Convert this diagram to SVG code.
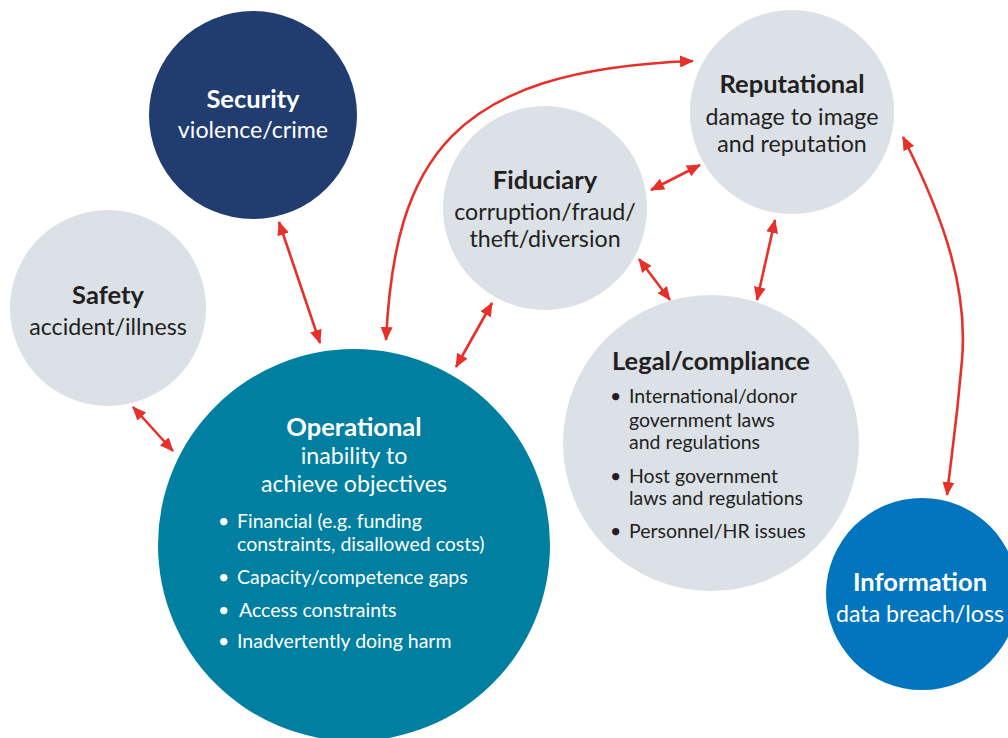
<svg xmlns="http://www.w3.org/2000/svg" width="1008" height="738" viewBox="0 0 1008 738">
  <style>
    .grey { fill: #dbe1e7; }
    .t { font-family: Lato, "Liberation Sans", sans-serif; text-anchor: middle; }
    .h { font-weight: bold; font-size: 25.5px; }
    .s { font-size: 23.2px; }
    .b { font-family: Lato, "Liberation Sans", sans-serif; font-size: 19.5px; }
    .dark { fill: #231f20; }
    .light { fill: #ffffff; }
    .link { fill: none; stroke: #e8302a; stroke-width: 2.6; marker-start: url(#head); marker-end: url(#head); }
  </style>
  <defs>
    <marker id="head" markerUnits="userSpaceOnUse" markerWidth="14" markerHeight="12" refX="13" refY="6" orient="auto-start-reverse" viewBox="0 0 14 12">
      <path d="M0,0 L14,6 L0,12 z" fill="#e8302a"/>
    </marker>
  </defs>
  <rect width="1008" height="738" fill="#ffffff"/>

  <!-- risk categories -->
  <g id="security">
    <circle cx="253" cy="115" r="104" fill="#213c6e"/>
    <text class="t h light" x="253" y="108">Security</text>
    <text class="t s light" x="253" y="138">violence/crime</text>
  </g>

  <g id="safety">
    <circle class="grey" cx="108" cy="308" r="98"/>
    <text class="t h dark" x="108" y="304">Safety</text>
    <text class="t s dark" x="108" y="335">accident/illness</text>
  </g>

  <g id="fiduciary">
    <circle class="grey" cx="545" cy="208" r="102"/>
    <text class="t h dark" x="545" y="189">Fiduciary</text>
    <text class="t s dark" x="545" y="220">corruption/fraud/</text>
    <text class="t s dark" x="545" y="247">theft/diversion</text>
  </g>

  <g id="reputational">
    <circle class="grey" cx="792" cy="112" r="102"/>
    <text class="t h dark" x="792" y="93">Reputational</text>
    <text class="t s dark" x="792" y="125">damage to image</text>
    <text class="t s dark" x="792" y="152">and reputation</text>
  </g>

  <g id="legal">
    <circle class="grey" cx="711" cy="443" r="148"/>
    <text class="t h dark" x="711" y="370">Legal/compliance</text>
    <g class="b dark">
      <text x="610" y="403">•</text>
      <text x="629" y="403">International/donor</text>
      <text x="629" y="427">government laws</text>
      <text x="629" y="449">and regulations</text>
      <text x="610" y="483">•</text>
      <text x="629" y="483">Host government</text>
      <text x="629" y="505">laws and regulations</text>
      <text x="610" y="538">•</text>
      <text x="629" y="538">Personnel/HR issues</text>
    </g>
  </g>

  <g id="operational">
    <circle cx="354" cy="545" r="196" fill="#007fa0"/>
    <text class="t h light" x="354" y="436">Operational</text>
    <text class="t s light" x="354" y="464">inability to</text>
    <text class="t s light" x="354" y="492">achieve objectives</text>
    <g class="b light">
      <text x="218" y="528">•</text>
      <text x="237" y="528">Financial (e.g. funding</text>
      <text x="237" y="551">constraints, disallowed costs)</text>
      <text x="218" y="584">•</text>
      <text x="237" y="584">Capacity/competence gaps</text>
      <text x="218" y="617">•</text>
      <text x="239" y="617">Access constraints</text>
      <text x="218" y="648">•</text>
      <text x="237" y="648">Inadvertently doing harm</text>
    </g>
  </g>

  <g id="information">
    <circle cx="922" cy="594" r="96" fill="#0275be"/>
    <text class="t h light" x="920" y="591">Information</text>
    <text class="t s light" x="920" y="622">data breach/loss</text>
  </g>

  <!-- two-way links -->
  <g id="connectors">
    <path class="link" d="M279,222 L320,343"/>
    <path class="link" d="M133,407 L173,451"/>
    <path class="link" d="M492,303 L456,367"/>
    <path class="link" d="M651,190 L700,165"/>
    <path class="link" d="M639,259 L670,300"/>
    <path class="link" d="M775,220 L757,300"/>
    <path class="link" d="M386,340 C395,160 450,70 693,61"/>
    <path class="link" d="M903,137 C945,220 968,290 962,360 S952,450 947,495"/>
  </g>
</svg>
